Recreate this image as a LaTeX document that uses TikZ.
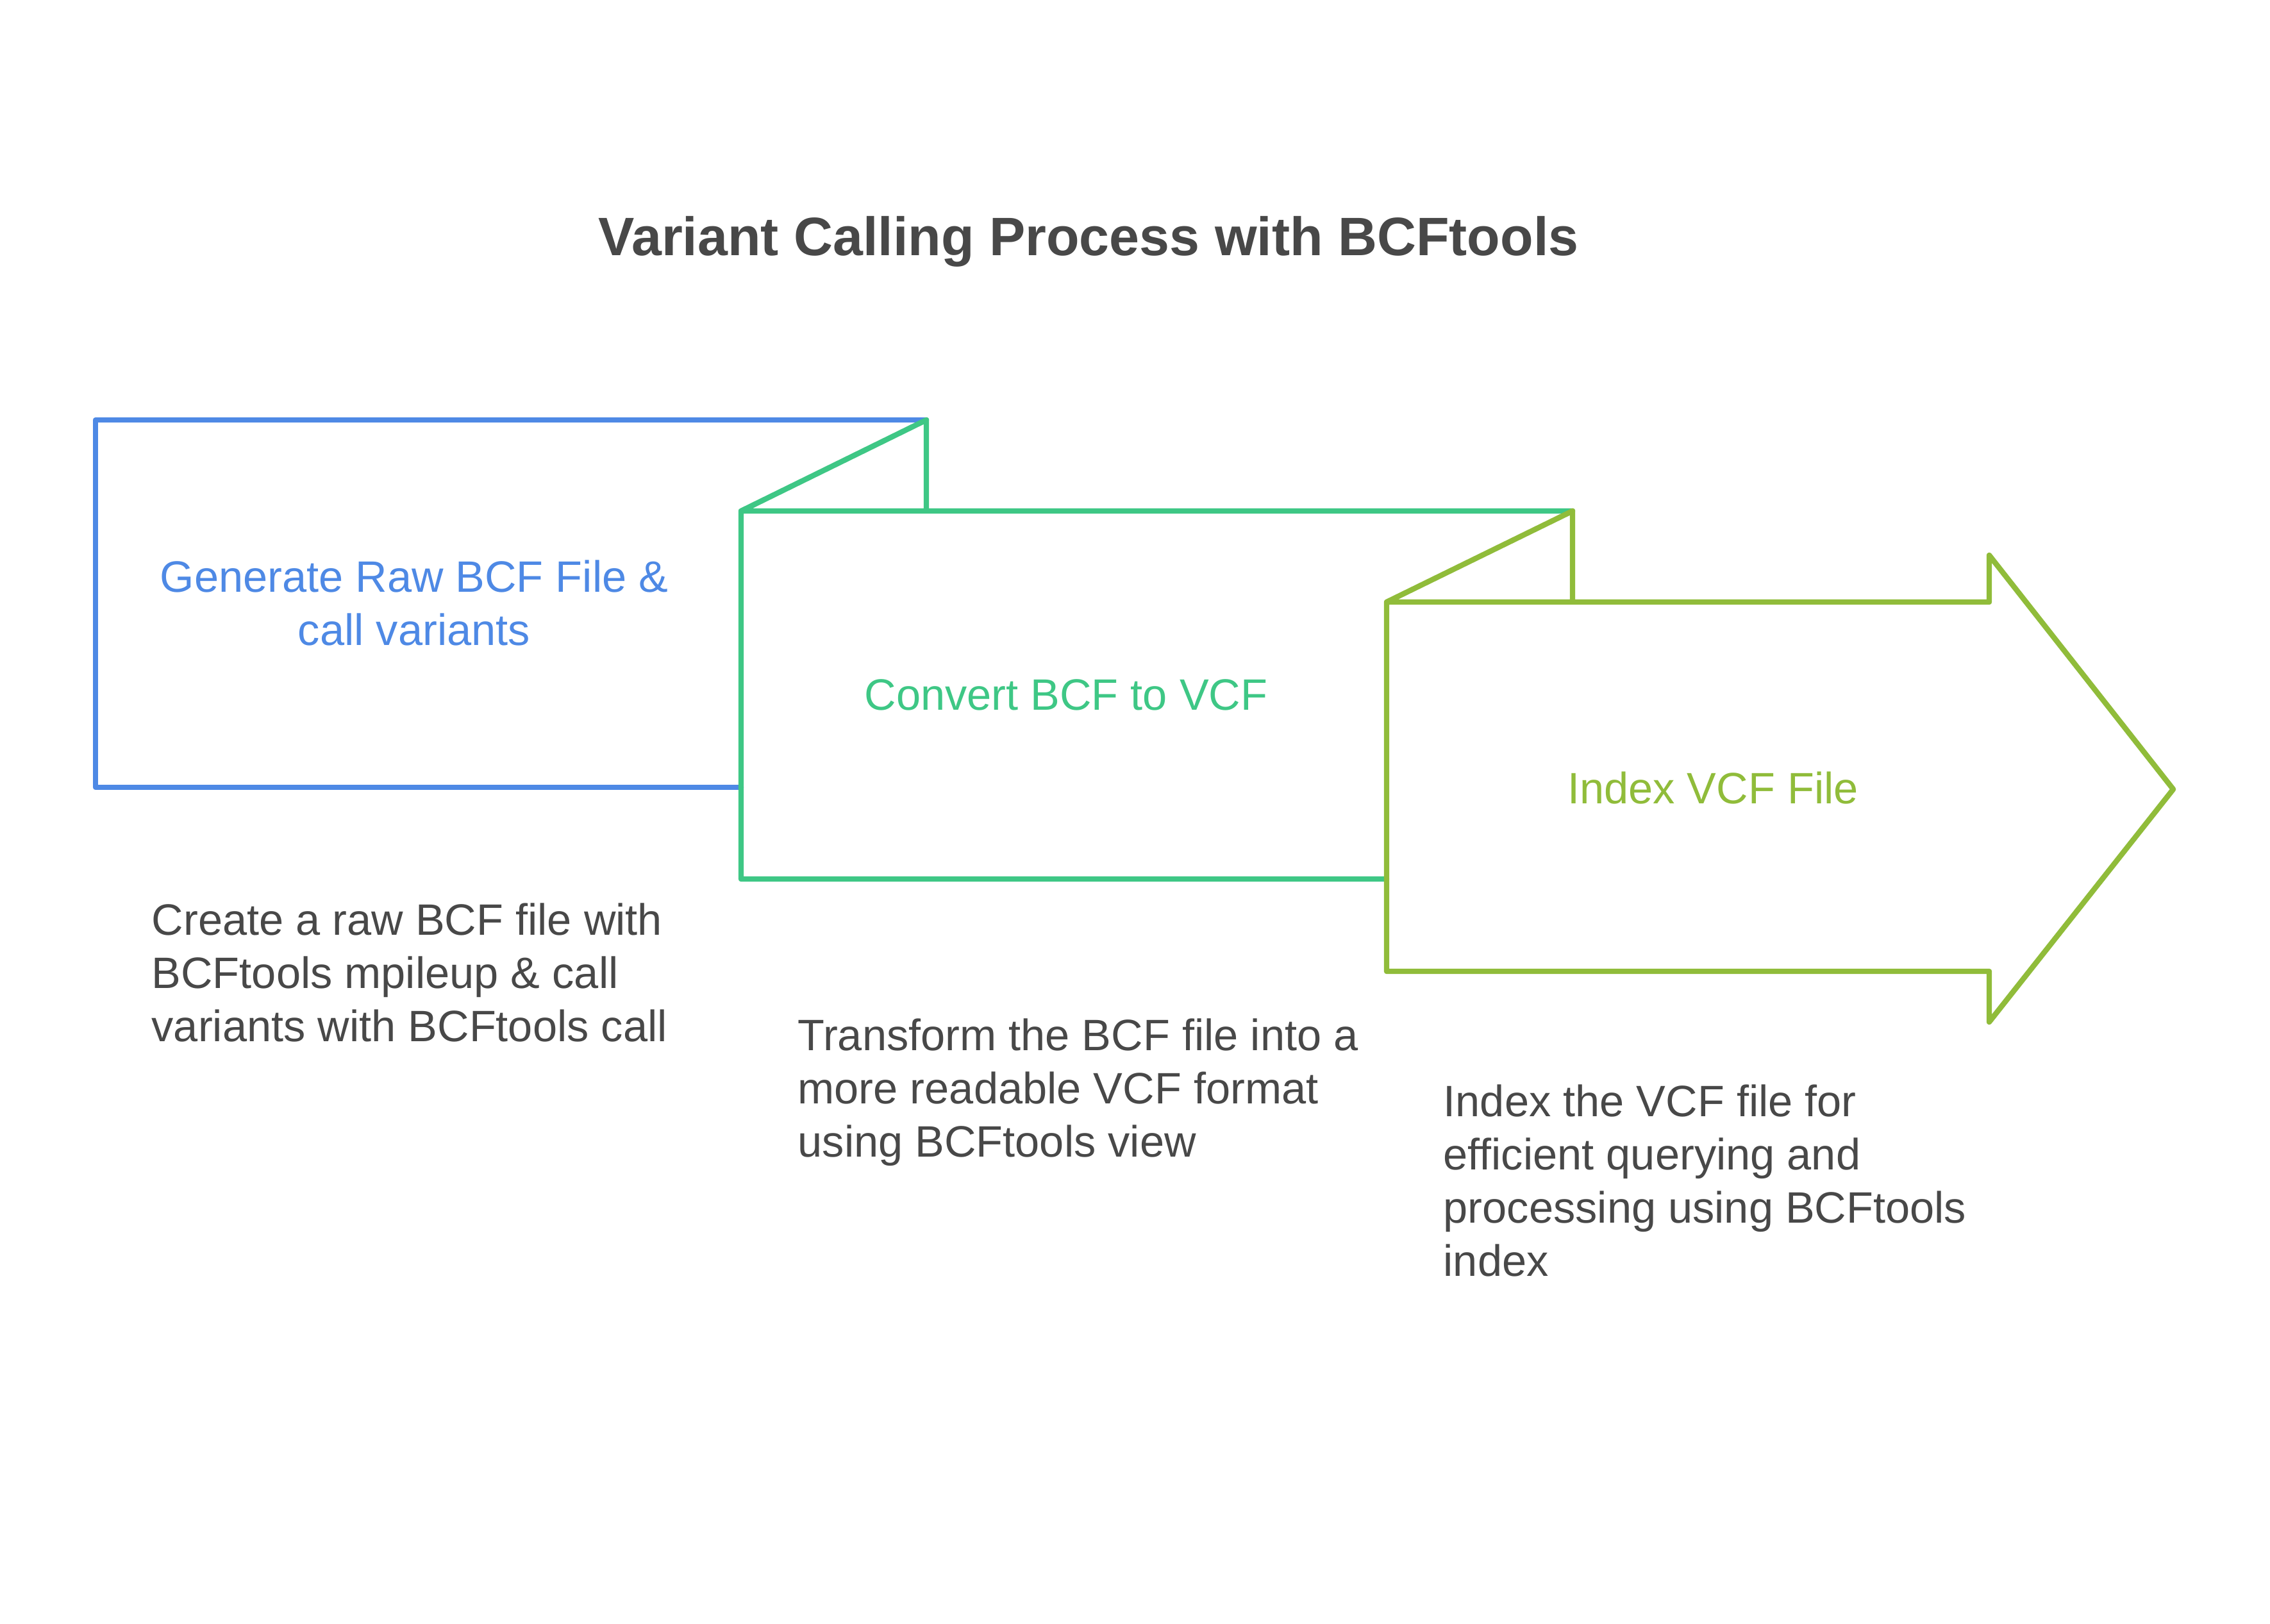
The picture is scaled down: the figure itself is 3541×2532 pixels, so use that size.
\documentclass[tikz,border=0pt]{standalone}
\usepackage{fontspec}
\setmainfont{Liberation Sans}
\usetikzlibrary{positioning,calc}
\definecolor{ink}{HTML}{484848}
\definecolor{stepBlue}{HTML}{4E89E5}
\definecolor{stepGreen}{HTML}{3EC785}
\definecolor{stepOlive}{HTML}{90BC3A}
\tikzset{
  fold/.style={line width=2.4pt, line join=round, line cap=round},
  heading/.style={font=\bfseries\fontsize{24}{29}\selectfont, text=ink, inner sep=0pt},
  stepname/.style={font=\fontsize{19.5}{23.6}\selectfont, align=center, inner sep=0pt},
  stepnote/.style={font=\fontsize{19.5}{23.6}\selectfont, text=ink, align=left,
                   anchor=north west, inner sep=0pt}
}
\begin{document}
\begin{tikzpicture}[x=0.01cm, y=-0.01cm]
\useasboundingbox (0,0) rectangle (3541,2532);

\coordinate (gen nw) at (149,655);
\coordinate (gen se) at (1156,1228);
\coordinate (gen fold) at (1445,655);
\coordinate (conv nw) at (1156,797);
\coordinate (conv se) at (2163,1371);
\coordinate (conv fold) at (2453,797);
\coordinate (idx nw) at (2163,939);
\coordinate (idx se) at (3103,1515);
\coordinate (idx tip) at (3390,1231);

\draw[fold, stepBlue] (gen se) -- (gen se -| gen nw) -- (gen nw) -- (gen fold);
\draw[fold, stepGreen] (gen fold |- conv nw) -- (gen fold) -- (conv nw) -- (conv nw |- conv se) -- (conv se)
  (conv nw) -- (conv fold);
\draw[fold, stepOlive] (idx nw) -- (idx nw |- idx se) -- (idx se) -- ($(idx se)+(0,79)$) -- (idx tip)
  -- ($(idx se |- idx nw)+(0,-73)$) -- (idx se |- idx nw) -- cycle
  (conv fold |- idx nw) -- (conv fold) -- (idx nw);

\node[heading, anchor=base] (title) at (1698,398) {Variant Calling Process with BCFtools};

\node[stepname, text=stepBlue] (gen) at (646,940) {Generate Raw BCF File \&\\call variants};
\node[stepname, text=stepGreen] (conv) at (1663,1084) {Convert BCF to VCF};
\node[stepname, text=stepOlive] (idx) at (2672,1229) {Index VCF File};

\node[stepnote] (gen note) at (236,1408) {Create a raw BCF file with\\BCFtools mpileup \& call\\variants with BCFtools call};
\node[stepnote] (conv note) at (1244,1588) {Transform the BCF file into a\\more readable VCF format\\using BCFtools view};
\node[stepnote] (idx note) at (2251,1691) {Index the VCF file for\\efficient querying and\\processing using BCFtools\\index};
\end{tikzpicture}
\end{document}
